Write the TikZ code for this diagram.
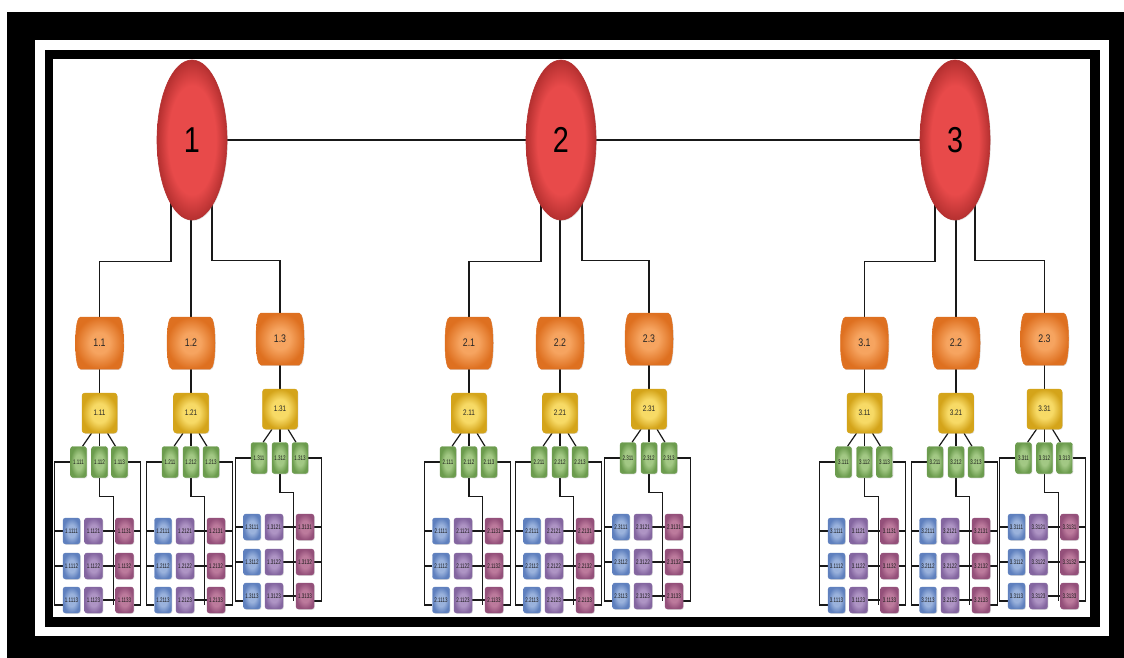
\documentclass[tikz,border=0pt]{standalone}
\usepackage{fontspec}
\setmainfont{Liberation Sans}
\newfontfamily\nrw[FakeStretch=0.8]{Liberation Sans}
\newfontfamily\nrww[FakeStretch=0.68]{Liberation Sans}
\usetikzlibrary{calc,shadows,shapes.geometric}
\definecolor{redA}{HTML}{E84A4A}\definecolor{redB}{HTML}{B53030}
\definecolor{orA}{HTML}{F6A460}\definecolor{orB}{HTML}{DE7020}
\definecolor{yeA}{HTML}{F7DA66}\definecolor{yeB}{HTML}{D4A41A}
\definecolor{grA}{HTML}{A2C884}\definecolor{grB}{HTML}{6C9C4E}
\definecolor{blA}{HTML}{9AB2DC}\definecolor{blB}{HTML}{5F80BE}
\definecolor{puA}{HTML}{AE94C4}\definecolor{puB}{HTML}{8466A0}
\definecolor{maA}{HTML}{BC7A9C}\definecolor{maB}{HTML}{94507A}
\pgfdeclareradialshading{redsh}{\pgfpoint{0bp}{0bp}}{color(0bp)=(redA); color(17bp)=(redA); color(25bp)=(redB); color(50bp)=(redB)}
\pgfdeclareradialshading{orsh}{\pgfpoint{0bp}{0bp}}{color(0bp)=(orA); color(10bp)=(orA); color(25bp)=(orB); color(50bp)=(orB)}
\pgfdeclareradialshading{yesh}{\pgfpoint{0bp}{0bp}}{color(0bp)=(yeA); color(12bp)=(yeA); color(25bp)=(yeB); color(50bp)=(yeB)}
\pgfdeclareradialshading{grsh}{\pgfpoint{0bp}{0bp}}{color(0bp)=(grA); color(12bp)=(grA); color(25bp)=(grB); color(50bp)=(grB)}
\pgfdeclareradialshading{blsh}{\pgfpoint{0bp}{0bp}}{color(0bp)=(blA); color(12bp)=(blA); color(25bp)=(blB); color(50bp)=(blB)}
\pgfdeclareradialshading{push}{\pgfpoint{0bp}{0bp}}{color(0bp)=(puA); color(12bp)=(puA); color(25bp)=(puB); color(50bp)=(puB)}
\pgfdeclareradialshading{mash}{\pgfpoint{0bp}{0bp}}{color(0bp)=(maA); color(12bp)=(maA); color(25bp)=(maB); color(50bp)=(maB)}
\pgfdeclarelayer{framel}\pgfdeclarelayer{connl}
\pgfsetlayers{framel,connl,main}
\tikzset{
 conn/.style={line width=1.2pt, draw=black!90},
 sh/.style={drop shadow={opacity=0.25, shadow xshift=0.8pt, shadow yshift=-0.8pt}},
 ell/.style={ellipse, minimum width=70pt, minimum height=160pt, inner sep=0pt, shading=redsh, draw=redB, line width=0.6pt, sh, font=\nrw\fontsize{36}{36}\selectfont, text=black},
 barrel/.style={shading=orsh, draw=orB, line width=0.5pt, sh},
 onode/.style={rectangle, minimum width=48pt, minimum height=52pt, inner sep=0pt, font=\nrw\fontsize{11}{11}\selectfont, text=black!85},
 ybox/.style={rectangle, rounded corners=3pt, minimum width=35pt, minimum height=40pt, inner sep=0pt, shading=yesh, draw=yeB, line width=0.5pt, sh, font=\nrw\fontsize{8}{8}\selectfont, text=black!85},
 small/.style={rectangle, rounded corners=2.5pt, inner sep=0pt, minimum height=26pt, line width=0.4pt, sh, font=\nrww\fontsize{6.6}{6.6}\selectfont, text=black!90},
 gbox/.style={small, minimum width=16pt, minimum height=31pt, shading=grsh, draw=grB},
 bbox/.style={small, minimum width=17pt, shading=blsh, draw=blB},
 pbox/.style={small, minimum width=18pt, shading=push, draw=puB},
 mbox/.style={small, minimum width=18pt, shading=mash, draw=maB},
}
% #1 cx, #2 dy, #3 prefix, #4 id, #5 orange label
\newcommand\mySub[5]{%
 \path[barrel] ({#1-19},{343+(#2)-26}) -- ({#1+19},{343+(#2)-26})
   .. controls ({#1+22},{343+(#2)-26}) and ({#1+24},{343+(#2)-16}) .. ({#1+24},{343+(#2)})
   .. controls ({#1+24},{343+(#2)+16}) and ({#1+22},{343+(#2)+26}) .. ({#1+19},{343+(#2)+26})
   -- ({#1-19},{343+(#2)+26})
   .. controls ({#1-22},{343+(#2)+26}) and ({#1-24},{343+(#2)+16}) .. ({#1-24},{343+(#2)})
   .. controls ({#1-24},{343+(#2)-16}) and ({#1-22},{343+(#2)-26}) .. ({#1-19},{343+(#2)-26}) -- cycle;
 \node[onode] (O-#4) at ({#1},{343+(#2)}) {#5};
 \node[ybox] (Y-#4) at ({#1},{413+(#2)}) {#31};
 \node[gbox] (G1-#4) at ({#1-21},{462+(#2)}) {#311};
 \node[gbox] (G2-#4) at ({#1},{462+(#2)}) {#312};
 \node[gbox] (G3-#4) at ({#1+20},{462+(#2)}) {#313};
 \foreach \rw/\yy in {1/531,2/566,3/600} {
   \node[bbox] (B\rw-#4) at ({#1-28},{\yy+(#2)}) {#311\rw};
   \node[pbox] (P\rw-#4) at ({#1-6},{\yy+(#2)}) {#312\rw};
   \node[mbox] (M\rw-#4) at ({#1+25},{\yy+(#2)}) {#313\rw};
 }
 \begin{pgfonlayer}{connl}
 \draw[conn] (O-#4.south) -- (Y-#4.north);
 \draw[conn] ($(Y-#4.south)+(-8,0)$) -- ($(G1-#4.north)+(4,0)$);
 \draw[conn] (Y-#4.south) -- (G2-#4.north);
 \draw[conn] ($(Y-#4.south)+(8,0)$) -- ($(G3-#4.north)+(-4,0)$);
 \draw[conn] (G1-#4.west) -| ($(B3-#4.west)+(-8,5)$) -- ($(B3-#4.west)+(0,5)$);
 \draw[conn] (B1-#4.west) -- ++(-8,0);
 \draw[conn] (B2-#4.west) -- ++(-8,0);
 \draw[conn] (G2-#4.south) -- ($(G2-#4.south)+(0,19)$) -| ($(M3-#4.west)+(-2,5)$);
 \draw[conn] (P1-#4.east) -- (M1-#4.west);
 \draw[conn] (P2-#4.east) -- (M2-#4.west);
 \draw[conn] (P3-#4.east) -- (M3-#4.west);
 \draw[conn] (G3-#4.east) -| ($(M3-#4.east)+(7,5)$) -- ($(M3-#4.east)+(0,5)$);
 \draw[conn] (M1-#4.east) -- ++(7,0);
 \draw[conn] (M2-#4.east) -- ++(7,0);
 \end{pgfonlayer}
}
\begin{document}
\begin{tikzpicture}[x=1pt,y=-1pt]
\useasboundingbox (0,0) rectangle (1124,658);
\begin{pgfonlayer}{framel}
\fill[white] (0,0) rectangle (1124,658);
\fill[black] (7,12) rectangle (1124,658);
\fill[white] (35,40) rectangle (1109,636);
\fill[black] (45,50) rectangle (1100,627);
\fill[white] (53,59) rectangle (1090,617);
\end{pgfonlayer}
% top level
\node[ell] (E1) at (192,140) {1};
\node[ell] (E2) at (561,140) {2};
\node[ell] (E3) at (955,140) {3};
% subtrees
\mySub{99.5}{0}{1.1}{11}{1.1}
\mySub{191}{0}{1.2}{12}{1.2}
\mySub{280}{-4}{1.3}{13}{1.3}
\mySub{469}{0}{2.1}{21}{2.1}
\mySub{560}{0}{2.2}{22}{2.2}
\mySub{649}{-4}{2.3}{23}{2.3}
\mySub{864.5}{0}{3.1}{31}{3.1}
\mySub{956}{0}{3.2}{32}{2.2}
\mySub{1044.5}{-4}{3.3}{33}{2.3}
\begin{pgfonlayer}{connl}
\draw[conn, line width=1.6pt] (E1) -- (E2) -- (E3);
\draw[conn] ($(E1)+(-21,0)$) |- ($(O-11.north)+(0,-55)$) -- (O-11.north);
\draw[conn] (O-12.north) -- (O-12.north |- E1);
\draw[conn] ($(E1)+(20,0)$) |- ($(O-13.north)+(0,-52)$) -- (O-13.north);
\draw[conn] ($(E2)+(-20,0)$) |- ($(O-21.north)+(0,-55)$) -- (O-21.north);
\draw[conn] (O-22.north) -- (O-22.north |- E2);
\draw[conn] ($(E2)+(21,0)$) |- ($(O-23.north)+(0,-52)$) -- (O-23.north);
\draw[conn] ($(E3)+(-20,0)$) |- ($(O-31.north)+(0,-55)$) -- (O-31.north);
\draw[conn] (O-32.north) -- (O-32.north |- E3);
\draw[conn] ($(E3)+(20,0)$) |- ($(O-33.north)+(0,-52)$) -- (O-33.north);
\end{pgfonlayer}
\end{tikzpicture}
\end{document}
